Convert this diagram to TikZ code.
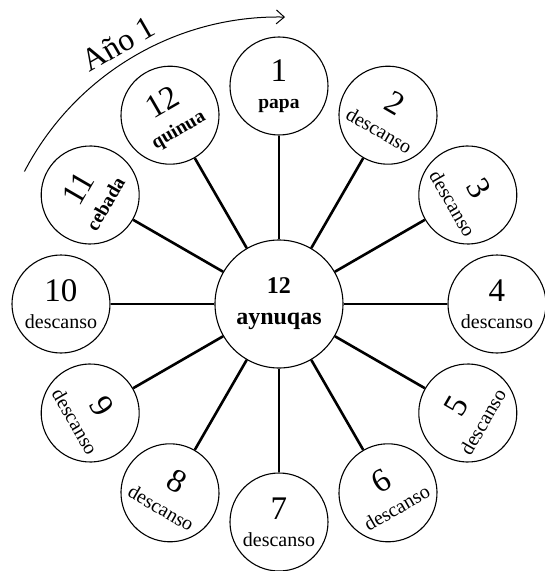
\documentclass[tikz,border=0pt]{standalone}
\usepackage{fontspec}
\setmainfont{Liberation Serif}
\usetikzlibrary{shapes,arrows.meta}
\tikzstyle{hub} = [circle, draw, line width=1.1pt, minimum size=128pt,
    inner sep=0pt, align=center, font=\bfseries\fontsize{24}{31}\selectfont]
\tikzstyle{month} = [circle, draw, line width=1.1pt, minimum size=98pt,
    inner sep=0pt, align=center, font=\fontsize{20}{27}\selectfont]
\tikzstyle{line} = [draw, line width=2.6pt]
\newcommand{\mnum}[1]{{\fontsize{33}{27}\selectfont #1}}
\newcommand{\cropname}[1]{{\bfseries\fontsize{19.5}{27}\selectfont #1}}

\begin{document}
\begin{tikzpicture}[x=1pt, y=1pt]
	\useasboundingbox (-279,-267) rectangle (266,304);

		\node [hub] (hub) at (0,0) {12\\aynuqas};

		\node [month] (m1) at (90:218) {\mnum{1}\\\cropname{papa}};
		\node [month, rotate=-30] (m2) at (60:218) {\mnum{2}\\descanso};
		\node [month, rotate=-60] (m3) at (30:218) {\mnum{3}\\descanso};
		\node [month] (m4) at (0:218) {\mnum{4}\\descanso};
		\node [month, rotate=60] (m5) at (-30:218) {\mnum{5}\\descanso};
		\node [month, rotate=30] (m6) at (-60:218) {\mnum{6}\\descanso};
		\node [month] (m7) at (-90:218) {\mnum{7}\\descanso};
		\node [month, rotate=-30] (m8) at (-120:218) {\mnum{8}\\descanso};
		\node [month, rotate=-60] (m9) at (-150:218) {\mnum{9}\\descanso};
		\node [month] (m10) at (180:218) {\mnum{10}\\descanso};
		\node [month, rotate=60] (m11) at (150:218) {\mnum{11}\\\cropname{cebada}};
		\node [month, rotate=30] (m12) at (120:218) {\mnum{12}\\\cropname{quinua}};

		\path [line] (hub) -- (m1);
		\path [line] (hub) -- (m2);
		\path [line] (hub) -- (m3);
		\path [line] (hub) -- (m4);
		\path [line] (hub) -- (m5);
		\path [line] (hub) -- (m6);
		\path [line] (hub) -- (m7);
		\path [line] (hub) -- (m8);
		\path [line] (hub) -- (m9);
		\path [line] (hub) -- (m10);
		\path [line] (hub) -- (m11);
		\path [line] (hub) -- (m12);

		% year arrow
		\coordinate (yearstart) at (152.5:287);
		\draw [line width=1pt, -{Straight Barb[length=8pt, width=14pt]}]
			(yearstart) arc [start angle=152.5, end angle=88.8, radius=287];
		\node [rotate=30, font=\fontsize{32}{32}\selectfont] (year) at (121.7:306) {Año 1};
	\end{tikzpicture}
\end{document}
